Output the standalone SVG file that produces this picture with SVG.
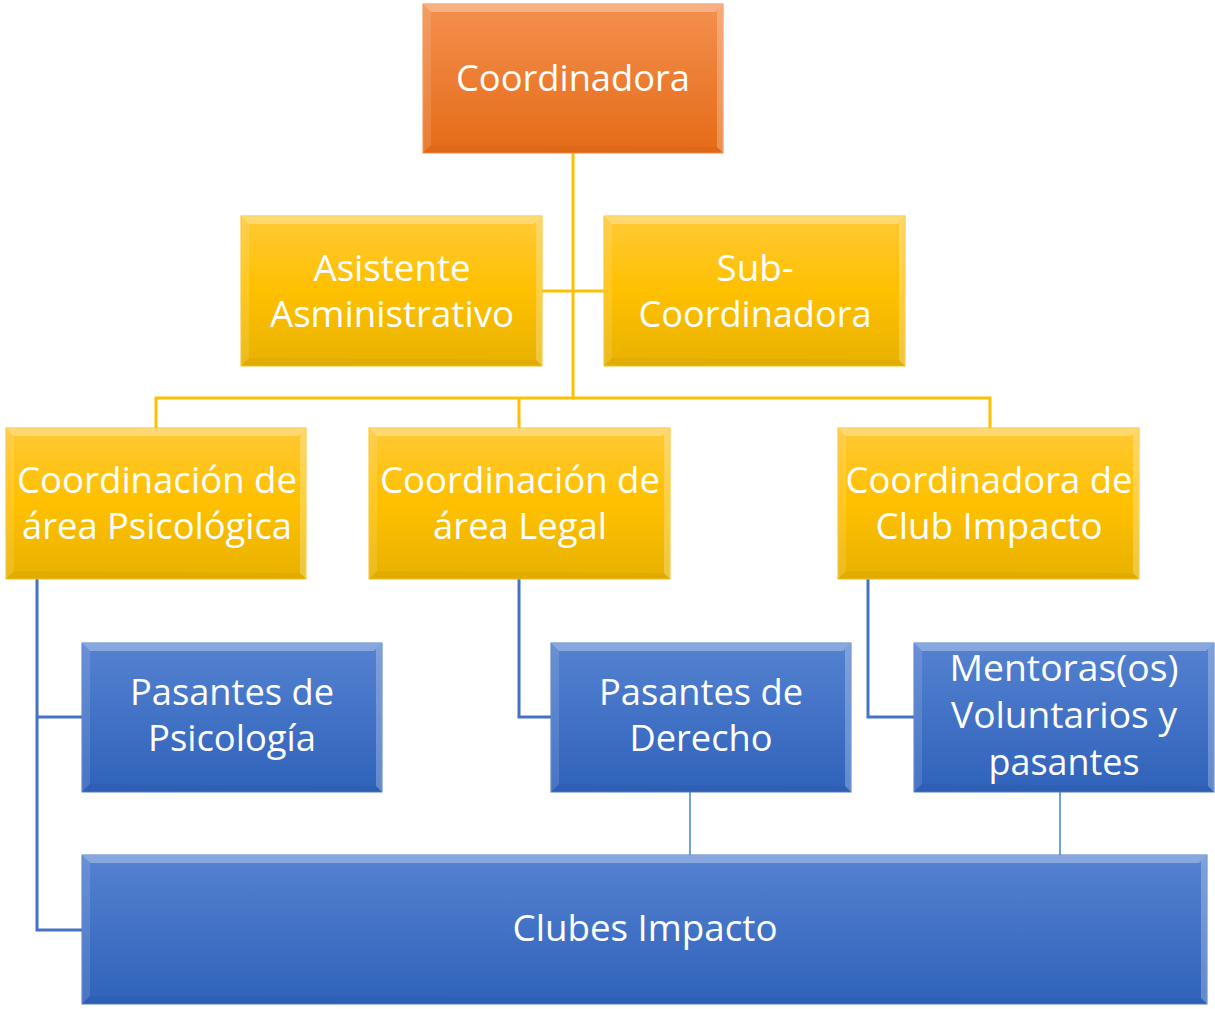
<svg xmlns="http://www.w3.org/2000/svg" xmlns:xlink="http://www.w3.org/1999/xlink" width="1215" height="1009" viewBox="0 0 1215 1009">
<defs>
<linearGradient id="gO" x1="0" y1="0" x2="0" y2="1"><stop offset="0" stop-color="#F4904F"/><stop offset="1" stop-color="#E56B17"/></linearGradient>
<linearGradient id="gY" x1="0" y1="0" x2="0" y2="1"><stop offset="0" stop-color="#FFC936"/><stop offset="0.5" stop-color="#FFC000"/><stop offset="1" stop-color="#E8B200"/></linearGradient>
<linearGradient id="gB" x1="0" y1="0" x2="0" y2="1"><stop offset="0" stop-color="#5582D1"/><stop offset="1" stop-color="#2F62BA"/></linearGradient>
<symbol id="bev" viewBox="0 0 300 150" preserveAspectRatio="none">
<polygon points="0,0 300,0 292,8 8,8" fill="#fff" opacity="0.3"/>
<polygon points="0,0 8,8 8,142 0,150" fill="#fff" opacity="0.12"/>
<polygon points="300,0 300,150 294,144 294,6" fill="#fff" opacity="0.25"/>
<polygon points="0,150 300,150 294,144 8,142" fill="#000" opacity="0.03"/>
</symbol>
<style>
.t{font-family:"Open Sans","Liberation Sans",sans-serif;font-size:36px;fill:#fff;text-anchor:middle}
.cy{fill:none;stroke:#FFC000;stroke-width:3}
.cb{fill:none;stroke:#4472C4;stroke-width:3}
.cl{fill:none;stroke:#6FA3DC;stroke-width:2}
.o{fill:url(#gO);stroke:#F08A45;stroke-width:1}
.y{fill:url(#gY);stroke:#F5C020;stroke-width:1}
.b{fill:url(#gB);stroke:#4C7BCB;stroke-width:1}
</style>
</defs>
<g id="connectors">
<path class="cy" d="M573,153 V398 M542,291 H604 M156,428 V398 H990 V428 M519,398 V428"/>
<path class="cb" d="M37,579 V930 H82 M37,717 H82 M519,579 V717 H551 M868,579 V717 H914"/>
<path class="cl" d="M690,792 V855 M1060,792 V855"/>
</g>
<g id="n1"><rect class="o" x="423" y="4" width="300" height="149"/><use xlink:href="#bev" x="423" y="4" width="300" height="149"/><text class="t" x="573" y="91" textLength="234" lengthAdjust="spacingAndGlyphs">Coordinadora</text></g>
<g id="n2"><rect class="y" x="241" y="216" width="301" height="150"/><use xlink:href="#bev" x="241" y="216" width="301" height="150"/><text class="t" x="392" y="281" textLength="157" lengthAdjust="spacingAndGlyphs">Asistente</text><text class="t" x="392" y="327" textLength="244" lengthAdjust="spacingAndGlyphs">Asministrativo</text></g>
<g id="n3"><rect class="y" x="604" y="216" width="301" height="150"/><use xlink:href="#bev" x="604" y="216" width="301" height="150"/><text class="t" x="755" y="281" textLength="77" lengthAdjust="spacingAndGlyphs">Sub-</text><text class="t" x="755" y="327" textLength="233" lengthAdjust="spacingAndGlyphs">Coordinadora</text></g>
<g id="n4"><rect class="y" x="6" y="428" width="300" height="151"/><use xlink:href="#bev" x="6" y="428" width="300" height="151"/><text class="t" x="157" y="493" textLength="280" lengthAdjust="spacingAndGlyphs">Coordinación de</text><text class="t" x="157" y="539" textLength="270" lengthAdjust="spacingAndGlyphs">área Psicológica</text></g>
<g id="n5"><rect class="y" x="369" y="428" width="301" height="151"/><use xlink:href="#bev" x="369" y="428" width="301" height="151"/><text class="t" x="520" y="493" textLength="280" lengthAdjust="spacingAndGlyphs">Coordinación de</text><text class="t" x="520" y="539" textLength="174" lengthAdjust="spacingAndGlyphs">área Legal</text></g>
<g id="n6"><rect class="y" x="838" y="428" width="301" height="151"/><use xlink:href="#bev" x="838" y="428" width="301" height="151"/><text class="t" x="989" y="493" textLength="287" lengthAdjust="spacingAndGlyphs">Coordinadora de</text><text class="t" x="989" y="539" textLength="227" lengthAdjust="spacingAndGlyphs">Club Impacto</text></g>
<g id="n7"><rect class="b" x="82" y="643" width="300" height="149"/><use xlink:href="#bev" x="82" y="643" width="300" height="149"/><text class="t" x="232" y="705" textLength="204" lengthAdjust="spacingAndGlyphs">Pasantes de</text><text class="t" x="232" y="751" textLength="168" lengthAdjust="spacingAndGlyphs">Psicología</text></g>
<g id="n8"><rect class="b" x="551" y="643" width="300" height="149"/><use xlink:href="#bev" x="551" y="643" width="300" height="149"/><text class="t" x="701" y="705" textLength="204" lengthAdjust="spacingAndGlyphs">Pasantes de</text><text class="t" x="701" y="751" textLength="143" lengthAdjust="spacingAndGlyphs">Derecho</text></g>
<g id="n9"><rect class="b" x="914" y="643" width="300" height="149"/><use xlink:href="#bev" x="914" y="643" width="300" height="149"/><text class="t" x="1064" y="681" textLength="229" lengthAdjust="spacingAndGlyphs">Mentoras(os)</text><text class="t" x="1064" y="728" textLength="226" lengthAdjust="spacingAndGlyphs">Voluntarios y</text><text class="t" x="1064" y="775" textLength="151" lengthAdjust="spacingAndGlyphs">pasantes</text></g>
<g id="n10"><rect class="b" x="82" y="855" width="1125" height="149"/>
<polygon points="82,855 1207,855 1199,863 90,863" fill="#fff" opacity="0.3"/>
<polygon points="82,855 90,863 90,996 82,1004" fill="#fff" opacity="0.12"/>
<polygon points="1207,855 1207,1004 1201,998 1201,861" fill="#fff" opacity="0.25"/>
<polygon points="82,1004 1207,1004 1201,998 90,996" fill="#000" opacity="0.03"/>
<text class="t" x="645" y="941" textLength="265" lengthAdjust="spacingAndGlyphs">Clubes Impacto</text></g>
</svg>
